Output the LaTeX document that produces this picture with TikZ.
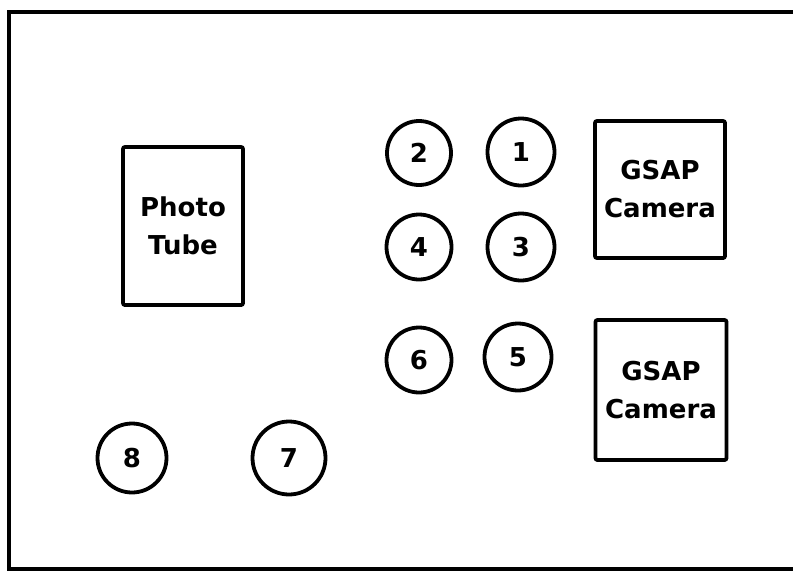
\documentclass[tikz,border=0pt]{standalone}
\usepackage{fontspec}
\setmainfont{DejaVu Sans}
\begin{document}
\begin{tikzpicture}[x=1pt,y=-1pt,
  lbl/.style={font=\bfseries\fontsize{26}{38}\selectfont, align=center},
  hole/.style={draw, circle, line width=3.8pt, inner sep=0pt, lbl},
  unit/.style={draw, rectangle, line width=3.8pt, rounded corners=2pt, inner sep=0pt, lbl}]
\useasboundingbox (0,0) rectangle (793,571);
\coordinate (tr) at (793,12);
\coordinate (tl) at (9,12);
\coordinate (bl) at (9,569);
\coordinate (br) at (793,569);
\draw[line width=3.8pt] (tr) -- (tl) -- (bl) -- (br);

\node[unit, minimum width=120pt, minimum height=158pt] (pt) at (183,226) {Photo\\Tube};
\node[unit, minimum width=130pt, minimum height=137pt] (cam1) at (660,189.5) {GSAP\\Camera};
\node[unit, minimum width=131pt, minimum height=140pt] (cam2) at (661,390) {GSAP\\Camera};

\node[hole, minimum size=64pt] (c2) at (419,153) {2};
\node[hole, minimum size=67pt] (c1) at (521,152) {1};
\node[hole, minimum size=65pt] (c4) at (419,247) {4};
\node[hole, minimum size=67pt] (c3) at (521,247) {3};
\node[hole, minimum size=65pt] (c6) at (419,360) {6};
\node[hole, minimum size=67pt] (c5) at (518,357) {5};
\node[hole, minimum size=69pt] (c8) at (132,458) {8};
\node[hole, minimum size=73pt] (c7) at (289,458) {7};
\end{tikzpicture}
\end{document}
